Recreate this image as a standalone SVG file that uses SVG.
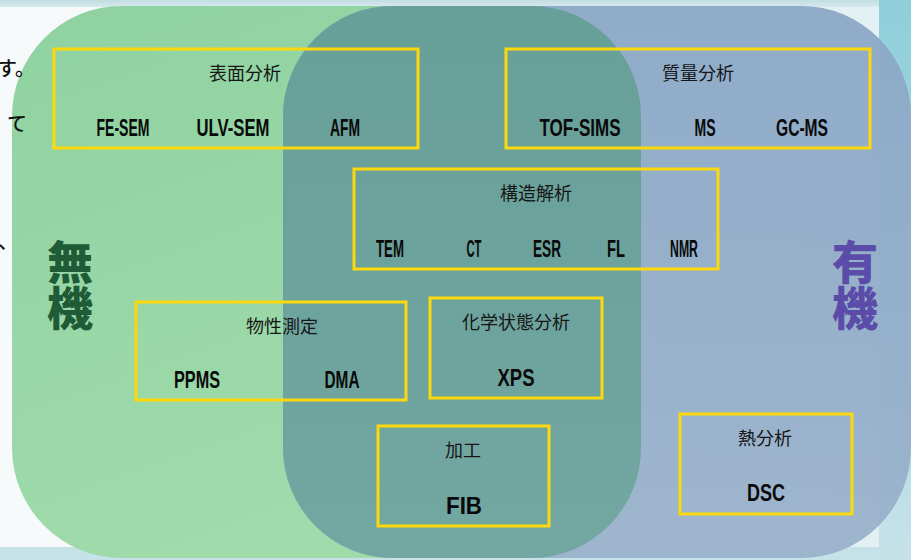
<svg xmlns="http://www.w3.org/2000/svg" width="911" height="560" viewBox="0 0 911 560">
<defs>
<linearGradient id="bg" x1="0" y1="0" x2="1" y2="0">
<stop offset="0" stop-color="#f7fafb"/><stop offset="1" stop-color="#e3f0f3"/>
</linearGradient>
<linearGradient id="topbg" x1="0" y1="0" x2="0" y2="1">
<stop offset="0" stop-color="#c3dde2"/><stop offset="1" stop-color="#d6e9ec"/>
</linearGradient>
<linearGradient id="strip" x1="0" y1="0" x2="0" y2="1">
<stop offset="0" stop-color="#8fcfda"/><stop offset="0.5" stop-color="#a8d8e1"/><stop offset="1" stop-color="#c6e2e9"/>
</linearGradient>
<linearGradient id="gGreen" x1="0" y1="0" x2="0.4" y2="1">
<stop offset="0" stop-color="#8fd2a1"/><stop offset="1" stop-color="#a0dbab"/>
</linearGradient>
<linearGradient id="gBlue" x1="0" y1="0" x2="0" y2="1">
<stop offset="0" stop-color="#8ba8c6"/><stop offset="1" stop-color="#9ab2cb"/>
</linearGradient>
<linearGradient id="gTeal" x1="0" y1="0" x2="0" y2="1">
<stop offset="0" stop-color="#679f99"/><stop offset="1" stop-color="#73a7a1"/>
</linearGradient>
<clipPath id="greenClip"><rect x="12" y="6" width="629" height="552" rx="110" ry="110"/></clipPath>
<style>
.box{fill:none;stroke:#fcd80c;stroke-width:3}
.title{font-family:"Noto Sans CJK JP","Noto Sans",sans-serif;font-size:18px;fill:#161616;text-anchor:middle}
.item{font-family:"Liberation Sans","DejaVu Sans",sans-serif;font-weight:bold;font-size:23px;fill:#0a0a0a;text-anchor:middle}
.big{font-family:"Noto Sans CJK JP",sans-serif;font-weight:900;font-size:46px;writing-mode:vertical-rl}
.side{font-family:"Noto Sans CJK JP",sans-serif;font-weight:500;font-size:20px;fill:#111}
</style>
</defs>
<rect x="0" y="0" width="911" height="560" fill="#c6e2e9"/>
<rect x="0" y="0" width="879" height="547" fill="url(#bg)"/>
<rect x="0" y="0" width="879" height="7" fill="url(#topbg)"/>
<rect x="879" y="0" width="32" height="560" fill="url(#strip)"/>

<g id="sets">
<rect id="inorganic" x="12" y="6" width="629" height="552" rx="110" ry="110" fill="url(#gGreen)"/>
<rect id="organic" x="283" y="6" width="628" height="552" rx="110" ry="110" fill="url(#gBlue)" fill-opacity="0.95"/>
<rect id="overlap" x="283" y="6" width="628" height="552" rx="110" ry="110" fill="url(#gTeal)" clip-path="url(#greenClip)"/>
</g>

<g id="side-text">
<text class="side" x="-3" y="76">す。</text>
<text class="side" x="7" y="131">て</text>
<text class="side" x="-2" y="249">、</text>
</g>

<g id="label-inorganic">
<text class="big" x="70" y="239" fill="#1f5b36">無機</text>
</g>
<g id="label-organic">
<text class="big" x="855" y="239" fill="#5a4ca8">有機</text>
</g>

<g id="surface">
<rect class="box" x="54" y="49" width="364" height="99"/>
<text class="title" x="245" y="80">表面分析</text>
<text class="item" x="123" y="136" textLength="53" lengthAdjust="spacingAndGlyphs">FE-SEM</text>
<text class="item" x="233" y="136" textLength="73" lengthAdjust="spacingAndGlyphs">ULV-SEM</text>
<text class="item" x="345" y="136" textLength="30" lengthAdjust="spacingAndGlyphs">AFM</text>
</g>

<g id="mass">
<rect class="box" x="506" y="49" width="364" height="99"/>
<text class="title" x="698" y="80">質量分析</text>
<text class="item" x="580" y="136" textLength="81" lengthAdjust="spacingAndGlyphs">TOF-SIMS</text>
<text class="item" x="705" y="136" textLength="21" lengthAdjust="spacingAndGlyphs">MS</text>
<text class="item" x="802" y="136" textLength="52" lengthAdjust="spacingAndGlyphs">GC-MS</text>
</g>

<g id="structure">
<rect class="box" x="354" y="169" width="364" height="100"/>
<text class="title" x="536" y="200">構造解析</text>
<text class="item" x="390" y="257" textLength="28" lengthAdjust="spacingAndGlyphs">TEM</text>
<text class="item" x="474" y="257" textLength="15" lengthAdjust="spacingAndGlyphs">CT</text>
<text class="item" x="547" y="257" textLength="28" lengthAdjust="spacingAndGlyphs">ESR</text>
<text class="item" x="616" y="257" textLength="18" lengthAdjust="spacingAndGlyphs">FL</text>
<text class="item" x="684" y="257" textLength="28" lengthAdjust="spacingAndGlyphs">NMR</text>
</g>

<g id="physical">
<rect class="box" x="136" y="302" width="270" height="98"/>
<text class="title" x="282" y="333">物性測定</text>
<text class="item" x="197" y="388" textLength="46" lengthAdjust="spacingAndGlyphs">PPMS</text>
<text class="item" x="342" y="388" textLength="35" lengthAdjust="spacingAndGlyphs">DMA</text>
</g>

<g id="chemical">
<rect class="box" x="430" y="298" width="172" height="100"/>
<text class="title" x="516" y="329">化学状態分析</text>
<text class="item" x="516" y="386" textLength="37" lengthAdjust="spacingAndGlyphs">XPS</text>
</g>

<g id="processing">
<rect class="box" x="378" y="426" width="171" height="100"/>
<text class="title" x="463" y="457">加工</text>
<text class="item" x="464" y="514" textLength="36" lengthAdjust="spacingAndGlyphs">FIB</text>
</g>

<g id="thermal">
<rect class="box" x="680" y="414" width="172" height="100"/>
<text class="title" x="765" y="445">熱分析</text>
<text class="item" x="766" y="501" textLength="38" lengthAdjust="spacingAndGlyphs">DSC</text>
</g>
</svg>
